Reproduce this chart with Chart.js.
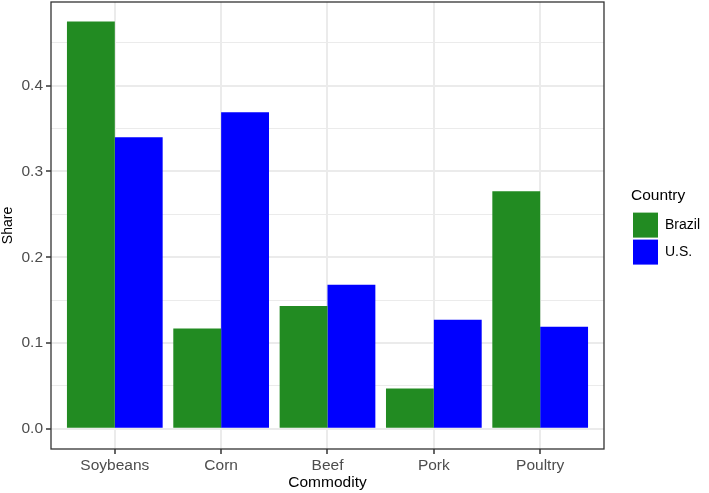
<!DOCTYPE html>
<head>
    <meta charset="utf-8">
    <style>
        body { margin: 0; background: #fff; }
        #wrap { width: 709px; height: 493px; }
    </style>
</head>

<body>
    <div id="wrap"><canvas id="shareChart" width="709" height="493"></canvas></div>
</body>

<script src="https://cdn.jsdelivr.net/npm/chart.js"></script>

<script>

// data
var commodities = ['Soybeans', 'Corn', 'Beef', 'Pork', 'Poultry']
var brazilShare = [0.475, 0.117, 0.143, 0.047, 0.277]
var usShare = [0.340, 0.369, 0.168, 0.127, 0.119]
var yTicks = [0.0, 0.1, 0.2, 0.3, 0.4]

var fontFamily = '"Liberation Sans", Arial, sans-serif'

function toPoints(values) {
    return values.map(function (v, i) { return { x: i + 1, y: v } })
}

// minor gridlines halfway between the labelled ones (ggplot style)
var yAll = []
yTicks.forEach(function (t) { yAll.push(t); yAll.push(t + 0.05) })

function isMajor(v) {
    return Math.abs(Math.round(v * 10) - v * 10) < 1e-6
}

// panel border drawn on top of the bars
var panelBorder = {
    id: 'panelBorder',
    afterDatasetsDraw(chart) {
        var a = chart.chartArea
        var ctx = chart.ctx
        ctx.save()
        ctx.strokeStyle = '#333333'
        ctx.lineWidth = 1.3
        ctx.strokeRect(a.left, a.top, a.right - a.left, a.bottom - a.top)
        ctx.restore()
    }
}

// ggplot leaves a gap between panel and legend; move the legend box over
var legendGap = {
    id: 'legendGap',
    afterLayout(chart) {
        chart.legend.left += 27
        chart.legend.right += 27
    }
}

var ctx = document.getElementById('shareChart').getContext('2d')

var shareChart = new Chart(ctx, {
    type: 'bar',
    data: {
        datasets: [{
            label: 'Brazil',
            data: toPoints(brazilShare),
            backgroundColor: '#228B22',
            borderWidth: 0
        }, {
            label: 'U.S.',
            data: toPoints(usShare),
            backgroundColor: '#0000FF',
            borderWidth: 0
        }]
    },
    options: {
        responsive: false,
        animation: false,
        categoryPercentage: 0.9,
        barPercentage: 1.0,
        layout: { padding: { top: 2, right: 26, left: 0, bottom: 0 } },
        plugins: {
            tooltip: { enabled: false },
            legend: {
                position: 'right',
                align: 'start',
                labels: {
                    boxWidth: 25,
                    boxHeight: 25,
                    padding: 2,
                    color: '#000',
                    font: { family: fontFamily, size: 14 }
                },
                title: {
                    display: true,
                    text: 'Country',
                    position: 'start',
                    color: '#000',
                    font: { family: fontFamily, size: 15.5 },
                    padding: { top: 186, bottom: 4 }
                }
            }
        },
        scales: {
            x: {
                type: 'linear',
                offset: false,
                min: 0.4,
                max: 5.6,
                afterBuildTicks: function (scale) {
                    scale.ticks = commodities.map(function (c, i) { return { value: i + 1 } })
                },
                afterFit: function (scale) {
                    scale.height = 44
                    scale.paddingLeft = 0
                    scale.paddingRight = 0
                },
                ticks: {
                    autoSkip: false,
                    maxRotation: 0,
                    padding: 2,
                    color: '#4D4D4D',
                    font: { family: fontFamily, size: 15.5 },
                    callback: function (v) { return commodities[Math.round(v) - 1] }
                },
                grid: {
                    offset: false,
                    color: '#EBEBEB',
                    lineWidth: 2,
                    tickLength: 5,
                    tickColor: '#333333',
                    tickWidth: 1.5
                },
                border: { display: false },
                title: {
                    display: true,
                    text: 'Commodity',
                    color: '#000',
                    font: { family: fontFamily, size: 15.5 },
                    padding: { top: 0, bottom: 1 }
                }
            },
            y: {
                min: -0.0237,
                max: 0.4977,
                afterBuildTicks: function (scale) {
                    scale.ticks = yAll.map(function (v) { return { value: v } })
                },
                afterFit: function (scale) {
                    scale.width = 51
                    scale.paddingTop = 0
                    scale.paddingBottom = 0
                },
                ticks: {
                    autoSkip: false,
                    padding: 3,
                    color: '#4D4D4D',
                    font: { family: fontFamily, size: 15.5 },
                    callback: function (v) { return isMajor(v) ? v.toFixed(1) : '' }
                },
                grid: {
                    color: '#EBEBEB',
                    lineWidth: function (c) { return isMajor(c.tick.value) ? 2 : 1 },
                    tickLength: 5,
                    tickColor: function (c) { return isMajor(c.tick.value) ? '#333333' : 'rgba(0,0,0,0)' },
                    tickWidth: 1.5
                },
                border: { display: false },
                title: {
                    display: true,
                    text: 'Share',
                    color: '#000',
                    font: { family: fontFamily, size: 14 },
                    padding: { top: 0, bottom: 0 }
                }
            }
        }
    },
    plugins: [panelBorder, legendGap]
})

</script>
</html>
